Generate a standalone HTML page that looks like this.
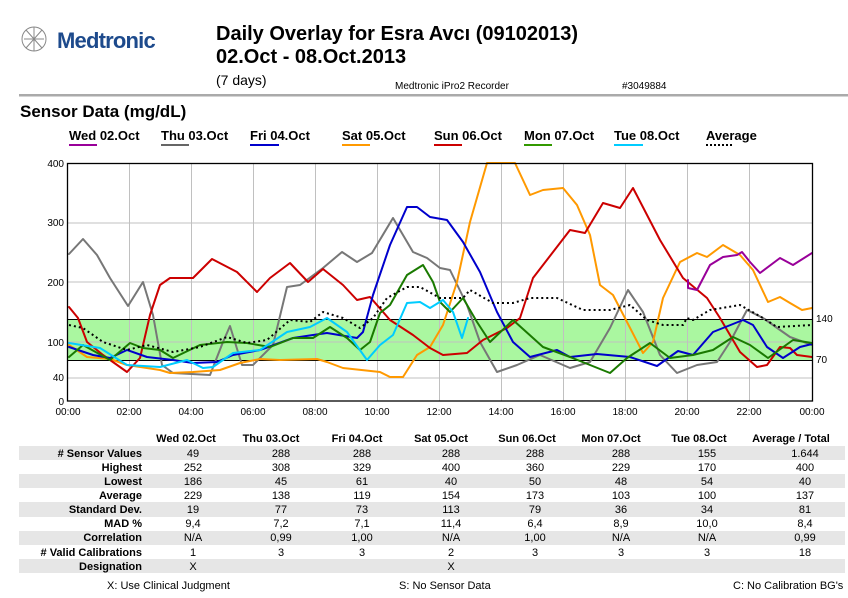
<!DOCTYPE html>
<html><head><meta charset="utf-8"><style>
html,body{margin:0;padding:0;background:#fff;}
svg{display:block;font-family:"Liberation Sans",Arial,sans-serif;}
</style></head><body>
<svg width="848" height="598" viewBox="0 0 848 598" xmlns="http://www.w3.org/2000/svg">
<g stroke="#888" fill="none" stroke-width="1">
<circle cx="34" cy="39" r="12"/>
<path d="M26 30 L42 48 M42 30 L26 48 M34 27 L34 51 M24 39 L44 39"/>
</g>
<text x="57" y="48" font-size="22" font-weight="bold" fill="#1d4a8c" letter-spacing="-0.8">Medtronic</text>
<text x="216" y="40" font-size="20" font-weight="bold" fill="#000">Daily Overlay for Esra Avcı (09102013)</text>
<text x="216" y="63" font-size="20" font-weight="bold" fill="#000">02.Oct - 08.Oct.2013</text>
<text x="216" y="85" font-size="14" fill="#000">(7 days)</text>
<text x="395" y="89" font-size="10" fill="#000">Medtronic iPro2 Recorder</text>
<text x="622" y="89" font-size="10" fill="#000">#3049884</text>
<rect x="19" y="94" width="829" height="2.5" fill="#aaa"/>
<text x="20" y="117" font-size="17" font-weight="bold" fill="#000">Sensor Data (mg/dL)</text>
<g font-size="13" font-weight="bold" fill="#000">
<text x="69" y="140">Wed 02.Oct</text><rect x="69" y="144" width="28" height="2" fill="#990099"/>
<text x="161" y="140">Thu 03.Oct</text><rect x="161" y="144" width="28" height="2" fill="#666"/>
<text x="250" y="140">Fri 04.Oct</text><rect x="250" y="144" width="29" height="2" fill="#0000cc"/>
<text x="342" y="140">Sat 05.Oct</text><rect x="342" y="144" width="28" height="2" fill="#ff9900"/>
<text x="434" y="140">Sun 06.Oct</text><rect x="434" y="144" width="28" height="2" fill="#cc0000"/>
<text x="524" y="140">Mon 07.Oct</text><rect x="524" y="144" width="28" height="2" fill="#339900"/>
<text x="614" y="140">Tue 08.Oct</text><rect x="614" y="144" width="29" height="2" fill="#00ccff"/>
<text x="706" y="140">Average</text><line x1="706" y1="145" x2="733" y2="145" stroke="#000" stroke-width="2" stroke-dasharray="2,2"/>
</g>
<rect x="68" y="319" width="744" height="41" fill="#aaf7a0"/>
<g stroke="#c0c0c0" stroke-width="1">
<line x1="68" y1="223" x2="812" y2="223"/><line x1="68" y1="282" x2="812" y2="282"/>
<line x1="68" y1="342" x2="812" y2="342"/><line x1="68" y1="378" x2="812" y2="378"/>
<line x1="129.5" y1="163" x2="129.5" y2="401"/><line x1="191.5" y1="163" x2="191.5" y2="401"/>
<line x1="253.5" y1="163" x2="253.5" y2="401"/><line x1="315.5" y1="163" x2="315.5" y2="401"/>
<line x1="377.5" y1="163" x2="377.5" y2="401"/><line x1="439.5" y1="163" x2="439.5" y2="401"/>
<line x1="501.5" y1="163" x2="501.5" y2="401"/><line x1="563.5" y1="163" x2="563.5" y2="401"/>
<line x1="625.5" y1="163" x2="625.5" y2="401"/><line x1="687.5" y1="163" x2="687.5" y2="401"/>
<line x1="749.5" y1="163" x2="749.5" y2="401"/>
</g>
<line x1="68" y1="319.5" x2="812" y2="319.5" stroke="#000" stroke-width="1"/>
<line x1="68" y1="360.5" x2="812" y2="360.5" stroke="#000" stroke-width="1"/>
<g fill="none" stroke-width="2" stroke-linejoin="round" stroke-linecap="round">
<polyline stroke="#777" points="69,254 83,239 97,255 110,278 128,306 143,282 153,315 162,365 173,373 210,375 223,342 230,326 242,365 253,365 273,345 287,287 300,285 323,268 342,252 357,262 372,253 393,218 413,252 427,258 440,268 450,270 467,305 480,342 497,372 517,365 540,355 570,368 590,362 610,328 628,290 643,312 660,355 677,373 697,365 717,362 730,342 747,310 763,318 790,337 812,345"/>
<polyline stroke="#ff9900" points="69,345 87,357 110,359 127,365 160,370 170,373 193,372 220,370 240,363 260,359 280,360 317,359 327,362 343,368 380,372 390,377 403,377 417,355 430,347 443,325 457,282 470,222 487,163 515,163 530,195 543,190 563,188 577,205 590,235 600,285 613,295 627,322 643,353 653,342 663,298 680,262 697,253 707,257 723,245 740,255 753,270 768,302 780,297 790,303 802,310 812,308"/>
<polyline stroke="#cc0000" points="69,307 78,318 87,342 103,355 127,372 140,358 150,315 160,285 170,278 193,278 212,259 237,272 257,292 270,278 290,263 308,282 323,269 343,285 357,300 370,297 390,320 413,335 430,348 443,355 467,353 483,340 507,328 520,318 533,278 570,230 585,233 603,203 620,208 633,188 660,240 683,278 707,298 720,318 740,352 757,367 767,365 780,347 790,348 797,355 812,357"/>
<polyline stroke="#0000cc" points="69,347 93,355 110,358 127,350 147,357 173,360 193,363 217,362 233,355 260,350 293,338 313,335 327,333 357,338 363,332 373,295 390,245 407,207 417,207 430,217 447,220 463,242 480,272 497,312 513,342 530,357 557,350 570,357 597,354 630,357 657,366 678,351 693,355 713,332 743,320 753,325 767,347 783,358 800,347 812,344"/>
<polyline stroke="#1a7a00" points="69,357 83,345 110,360 130,343 143,348 160,350 173,358 200,345 227,342 247,343 270,347 293,338 313,338 330,327 347,338 360,350 370,342 380,313 390,305 407,275 423,265 433,282 440,302 450,312 463,298 477,322 490,342 513,320 543,347 570,357 610,373 627,358 650,343 670,358 693,355 713,350 733,337 750,345 768,358 793,340 812,343"/>
<polyline stroke="#00ccff" points="69,343 100,348 127,365 160,367 187,360 203,368 213,367 233,353 260,350 287,332 310,327 327,318 347,332 367,360 380,345 393,335 407,303 420,302 430,308 443,300 453,312 462,338 468,318"/>
<polyline stroke="#990099" points="688,280 688,288 697,290 710,265 723,257 737,255 742,252 750,262 760,273 780,258 793,265 812,253"/>
<polyline stroke="#000" stroke-dasharray="2,3" stroke-linecap="butt" points="69,325 83,328 103,342 127,350 147,345 173,352 200,347 227,337 247,343 267,340 290,320 310,322 323,312 343,318 360,328 373,318 387,298 407,287 420,287 440,298 463,298 470,290 493,303 513,303 530,298 557,298 583,310 610,310 630,305 647,320 663,325 683,325 687,318 693,320 710,310 740,305 763,318 777,327 812,325"/>
</g>
<rect x="67.5" y="163.5" width="745" height="237.5" fill="none" stroke="#000" stroke-width="1.3"/>
<g font-size="10" fill="#000" text-anchor="end">
<text x="64" y="167">400</text><text x="64" y="226">300</text><text x="64" y="286">200</text>
<text x="64" y="346">100</text><text x="64" y="381">40</text><text x="64" y="405">0</text>
</g>
<g font-size="10" fill="#000">
<text x="816" y="322">140</text><text x="816" y="363">70</text>
</g>
<g font-size="10" fill="#000" text-anchor="middle">
<text x="68" y="415">00:00</text><text x="129" y="415">02:00</text><text x="191" y="415">04:00</text>
<text x="253" y="415">06:00</text><text x="315" y="415">08:00</text><text x="377" y="415">10:00</text>
<text x="439" y="415">12:00</text><text x="501" y="415">14:00</text><text x="563" y="415">16:00</text>
<text x="625" y="415">18:00</text><text x="687" y="415">20:00</text><text x="749" y="415">22:00</text>
<text x="812" y="415">00:00</text>
</g>
<g fill="#e6e6e6">
<rect x="19" y="446" width="826" height="14"/><rect x="19" y="474" width="826" height="14"/>
<rect x="19" y="502" width="826" height="15"/><rect x="19" y="531" width="826" height="14"/>
<rect x="19" y="559" width="826" height="14"/>
</g>
<g font-size="11" font-weight="bold" fill="#000" text-anchor="middle">
<text x="186" y="442">Wed 02.Oct</text><text x="271" y="442">Thu 03.Oct</text><text x="357" y="442">Fri 04.Oct</text>
<text x="441" y="442">Sat 05.Oct</text><text x="527" y="442">Sun 06.Oct</text><text x="611" y="442">Mon 07.Oct</text>
<text x="699" y="442">Tue 08.Oct</text><text x="791" y="442">Average / Total</text>
</g>
<g font-size="11" font-weight="bold" fill="#000" text-anchor="end">
<text x="142" y="457"># Sensor Values</text><text x="142" y="471">Highest</text><text x="142" y="485">Lowest</text>
<text x="142" y="499">Average</text><text x="142" y="513">Standard Dev.</text><text x="142" y="527">MAD %</text>
<text x="142" y="541">Correlation</text><text x="142" y="556"># Valid Calibrations</text><text x="142" y="570">Designation</text>
</g>
<g font-size="11" fill="#000" text-anchor="middle">
<text x="193" y="457">49</text><text x="281" y="457">288</text><text x="362" y="457">288</text><text x="451" y="457">288</text><text x="535" y="457">288</text><text x="621" y="457">288</text><text x="707" y="457">155</text><text x="805" y="457">1.644</text>
<text x="193" y="471">252</text><text x="281" y="471">308</text><text x="362" y="471">329</text><text x="451" y="471">400</text><text x="535" y="471">360</text><text x="621" y="471">229</text><text x="707" y="471">170</text><text x="805" y="471">400</text>
<text x="193" y="485">186</text><text x="281" y="485">45</text><text x="362" y="485">61</text><text x="451" y="485">40</text><text x="535" y="485">50</text><text x="621" y="485">48</text><text x="707" y="485">54</text><text x="805" y="485">40</text>
<text x="193" y="499">229</text><text x="281" y="499">138</text><text x="362" y="499">119</text><text x="451" y="499">154</text><text x="535" y="499">173</text><text x="621" y="499">103</text><text x="707" y="499">100</text><text x="805" y="499">137</text>
<text x="193" y="513">19</text><text x="281" y="513">77</text><text x="362" y="513">73</text><text x="451" y="513">113</text><text x="535" y="513">79</text><text x="621" y="513">36</text><text x="707" y="513">34</text><text x="805" y="513">81</text>
<text x="193" y="527">9,4</text><text x="281" y="527">7,2</text><text x="362" y="527">7,1</text><text x="451" y="527">11,4</text><text x="535" y="527">6,4</text><text x="621" y="527">8,9</text><text x="707" y="527">10,0</text><text x="805" y="527">8,4</text>
<text x="193" y="541">N/A</text><text x="281" y="541">0,99</text><text x="362" y="541">1,00</text><text x="451" y="541">N/A</text><text x="535" y="541">1,00</text><text x="621" y="541">N/A</text><text x="707" y="541">N/A</text><text x="805" y="541">0,99</text>
<text x="193" y="556">1</text><text x="281" y="556">3</text><text x="362" y="556">3</text><text x="451" y="556">2</text><text x="535" y="556">3</text><text x="621" y="556">3</text><text x="707" y="556">3</text><text x="805" y="556">18</text>
<text x="193" y="570">X</text><text x="451" y="570">X</text>
</g>
<g font-size="11" fill="#000">
<text x="107" y="589">X: Use Clinical Judgment</text>
<text x="399" y="589">S: No Sensor Data</text>
<text x="733" y="589">C: No Calibration BG's</text>
</g>
</svg>
</body></html>
